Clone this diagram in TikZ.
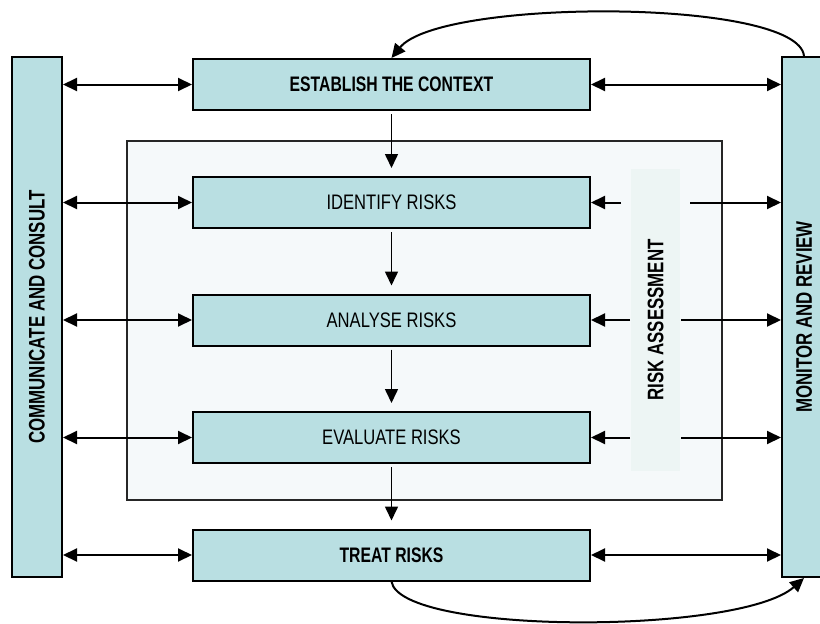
\documentclass[tikz,border=0pt]{standalone}
\usepackage{fontspec}
\setmainfont[FakeStretch=0.79, BoldFeatures={FakeStretch=0.75}]{Liberation Sans}
\usetikzlibrary{arrows.meta}
\definecolor{boxfill}{HTML}{B9DFE2}
\definecolor{areafill}{HTML}{F5F9FA}
\definecolor{stripfill}{HTML}{EDF5F4}
\tikzset{
  lbl/.style={font=\fontsize{21}{24}\selectfont},
  blbl/.style={font=\fontsize{21}{24}\selectfont\bfseries},
  barlbl/.style={font=\fontsize{22.5}{26}\selectfont\bfseries},
  stage/.style={draw, fill=boxfill, minimum width=397pt, minimum height=51pt, inner sep=0pt},
  bar/.style={draw, fill=boxfill, minimum width=50pt, minimum height=520pt, inner sep=0pt}
}
\begin{document}
\begin{tikzpicture}[x=1pt, y=-1pt, line width=2pt, lbl, >={Triangle[length=14pt,width=13pt]}]
	\useasboundingbox (0,0) rectangle (820,624);
	% risk assessment area
	\node[draw=black!85, line width=1.3pt, fill=areafill, minimum width=595pt, minimum height=359pt] (area) at (424.5,320.5) {};
	\node[fill=stripfill, minimum width=49pt, minimum height=302pt, label={[rotate=90, barlbl]center:RISK ASSESSMENT}] (strip) at (655.5,320) {};
	% side bars
	\node[bar, label={[rotate=90, barlbl]center:COMMUNICATE AND CONSULT}] (comm) at (37,317) {};
	\node[bar, minimum width=44pt, label={[rotate=90, barlbl]center:MONITOR AND REVIEW}] (mon) at (804,317) {};
	% stages
	\node[stage, blbl] (ctx) at (391.5,84.5) {ESTABLISH THE CONTEXT};
	\node[stage] (idf) at (391.5,202.5) {IDENTIFY RISKS};
	\node[stage] (ana) at (391.5,320) {ANALYSE RISKS};
	\node[stage] (evl) at (391.5,437.5) {EVALUATE RISKS};
	\node[stage, blbl] (trt) at (391.5,555) {TREAT RISKS};
	\foreach \a/\b in {ctx/idf, idf/ana, ana/evl, evl/trt}{
	\draw[->, line width=1.6pt, shorten <=3pt, shorten >=8pt] (\a) -- (\b);
	}
	\foreach \s in {ctx, idf, ana, evl, trt}{
	\draw[<->] (comm.east |- \s) -- (\s.west);
	}
	\foreach \s in {ctx, trt}{
	\draw[<->] (\s.east) -- (mon.west |- \s);
	}
	\foreach \s/\d in {idf/9, ana/0, evl/0}{
	\draw[->] ([xshift=-\d pt]strip.west |- \s) -- (\s.east);
	\draw[->] ([xshift=\d pt]strip.east |- \s) -- (mon.west |- \s);
	}
	% feedback loops
	\draw[->] (mon.north) .. controls (798,-2) and (440,-2) .. (ctx.north);
	\draw[->] (trt.south) .. controls (400,635) and (740,635) .. (mon.south);
\end{tikzpicture}
\end{document}
